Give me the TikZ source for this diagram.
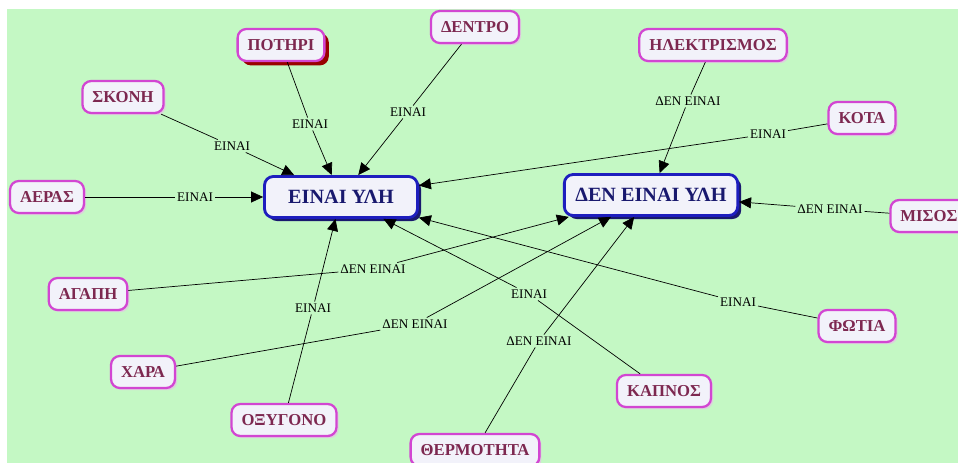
\documentclass[tikz,border=0pt]{standalone}
\usepackage{fontspec}
\setmainfont{Liberation Serif}
\usetikzlibrary{arrows.meta,shadows}
\definecolor{fundo}{RGB}{196,248,196}
\definecolor{borda}{RGB}{210,70,210}
\definecolor{texto}{RGB}{125,40,80}
\definecolor{azul}{RGB}{30,30,190}
\definecolor{azulesc}{RGB}{25,25,110}
\definecolor{caixa}{RGB}{242,242,250}
\tikzset{
  conceito/.style={draw=borda, line width=1.3pt, fill=caixa, rounded corners=5pt,
    text=texto, font=\fontsize{9.5}{11}\selectfont\bfseries,
    minimum height=0.64cm, inner xsep=0.2cm,
    drop shadow={shadow xshift=1.2pt, shadow yshift=-1.2pt, fill=borda!40, opacity=0.6}},
  principal/.style={draw=azul, line width=1.6pt, fill=caixa, rounded corners=5pt,
    text=azulesc, font=\fontsize{11.5}{13}\selectfont\bfseries,
    minimum height=0.82cm, minimum width=3.06cm, inner xsep=0.22cm,
    drop shadow={shadow xshift=2pt, shadow yshift=-2pt, fill=azulesc, opacity=1}},
  ligacao/.style={fill=fundo, inner sep=1pt, font=\fontsize{7.5}{9}\selectfont},
  seta/.style={-{Triangle[length=2.4mm,width=2.2mm]}, thin},
  linha/.style={thin}
}
\begin{document}
\begin{tikzpicture}[x=0.02cm, y=-0.02cm] %escala em pixels
	%Fundo
	\clip (0,0) rectangle (958,463);
	\useasboundingbox (0,0) rectangle (958,463);
	\fill[white] (0,0) rectangle (958,463);
	\fill[fundo] (7,9) rectangle (958,463);
	%Conceitos principais
	\node[principal] (ei) at (341,197) {ΕΙΝΑΙ ΥΛΗ};
	\node[principal] (den) at (651,195) {ΔΕΝ ΕΙΝΑΙ ΥΛΗ};
	%Conceitos
	\node[conceito, drop shadow={shadow xshift=2.5pt, shadow yshift=-2.5pt, fill=red!60!black, opacity=1}] (potiri) at (281,45) {ΠΟΤΗΡΙ};
	\node[conceito] (dentro) at (475,27) {ΔΕΝΤΡΟ};
	\node[conceito] (skoni) at (123,97) {ΣΚΟΝΗ};
	\node[conceito] (aeras) at (47,197) {ΑΕΡΑΣ};
	\node[conceito] (ilektr) at (713,45) {ΗΛΕΚΤΡΙΣΜΟΣ};
	\node[conceito] (kota) at (862,118) {ΚΟΤΑ};
	\node[conceito] (misos) at (929,216) {ΜΙΣΟΣ};
	\node[conceito] (agapi) at (88,294) {ΑΓΑΠΗ};
	\node[conceito] (chara) at (143,372) {ΧΑΡΑ};
	\node[conceito] (oxygono) at (284,420) {ΟΞΥΓΟΝΟ};
	\node[conceito] (thermo) at (475,450) {ΘΕΡΜΟΤΗΤΑ};
	\node[conceito] (kapnos) at (664,391) {ΚΑΠΝΟΣ};
	\node[conceito] (fotia) at (857,326) {ΦΩΤΙΑ};
	%Frases de ligacao
	\node[ligacao] (lskoni) at (232,146) {ΕΙΝΑΙ};
	\node[ligacao] (lpotiri) at (310,124) {ΕΙΝΑΙ};
	\node[ligacao] (ldentro) at (408,112) {ΕΙΝΑΙ};
	\node[ligacao] (laeras) at (195,197) {ΕΙΝΑΙ};
	\node[ligacao] (lilektr) at (688,101) {ΔΕΝ ΕΙΝΑΙ};
	\node[ligacao] (lkota) at (768,134) {ΕΙΝΑΙ};
	\node[ligacao] (lmisos) at (830,209) {ΔΕΝ ΕΙΝΑΙ};
	\node[ligacao] (lagapi) at (373,269) {ΔΕΝ ΕΙΝΑΙ};
	\node[ligacao] (lchara) at (415,324) {ΔΕΝ ΕΙΝΑΙ};
	\node[ligacao] (loxygono) at (313,308) {ΕΙΝΑΙ};
	\node[ligacao] (lkapnos) at (529,294) {ΕΙΝΑΙ};
	\node[ligacao] (lthermo) at (539,341) {ΔΕΝ ΕΙΝΑΙ};
	\node[ligacao] (lfotia) at (738,302) {ΕΙΝΑΙ};
	%Ligacoes para ΕΙΝΑΙ ΥΛΗ
	\draw[linha] (skoni) -- (lskoni); \draw[seta] (lskoni) -- (ei);
	\draw[linha] (potiri) -- (lpotiri); \draw[seta] (lpotiri) -- (ei);
	\draw[linha] (dentro) -- (ldentro); \draw[seta] (ldentro) -- (ei);
	\draw[linha] (aeras) -- (laeras); \draw[seta] (laeras) -- (ei);
	\draw[linha] (kota) -- (lkota); \draw[seta] (lkota) -- (ei);
	\draw[linha] (oxygono) -- (loxygono); \draw[seta] (loxygono) -- (ei);
	\draw[linha] (kapnos) -- (lkapnos); \draw[seta] (lkapnos) -- (ei);
	\draw[linha] (fotia) -- (lfotia); \draw[seta] (lfotia) -- (ei);
	%Ligacoes para ΔΕΝ ΕΙΝΑΙ ΥΛΗ
	\draw[linha] (ilektr) -- (lilektr); \draw[seta] (lilektr) -- (den);
	\draw[linha] (misos) -- (lmisos); \draw[seta] (lmisos) -- (den);
	\draw[linha] (agapi) -- (lagapi); \draw[seta] (lagapi) -- (den);
	\draw[linha] (chara) -- (lchara); \draw[seta] (lchara) -- (den);
	\draw[linha] (thermo) -- (lthermo); \draw[seta] (lthermo) -- (den);
\end{tikzpicture}
\end{document}
